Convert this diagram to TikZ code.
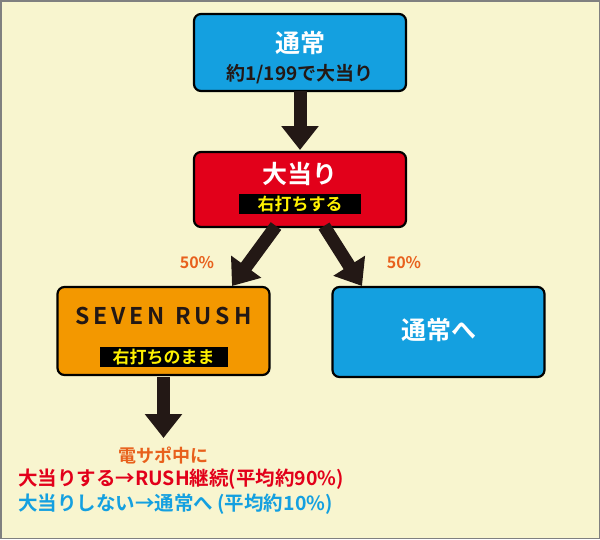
\documentclass[tikz,border=0pt]{standalone}
\usepackage{fontspec}
\setmainfont{Noto Sans CJK JP}[BoldFont={* Bold}]
\usetikzlibrary{arrows.meta,positioning}
\definecolor{bgyel}{HTML}{F8F5CF}
\definecolor{skyblu}{HTML}{14A0E0}
\definecolor{hitred}{HTML}{E2001A}
\definecolor{rushor}{HTML}{F39800}
\definecolor{labor}{HTML}{E8601C}
\definecolor{txtgray}{HTML}{231815}
\definecolor{tagyel}{HTML}{FFF100}
\tikzset{
  box/.style={draw=black, line width=2.2pt, rounded corners=7pt, minimum width=212pt, font=\bfseries},
  tag/.style={fill=black, text=tagyel, font=\bfseries\fontsize{17}{19}\selectfont, inner sep=2pt},
  bigarr/.style={line width=13pt, color=txtgray, -{Triangle[length=24pt,width=36pt]}},
  pct/.style={text=labor, font=\bfseries\fontsize{16}{18}\selectfont},
  note/.style={font=\bfseries\fontsize{19.5}{21}\selectfont, anchor=west, inner sep=0pt}
}
\begin{document}
\begin{tikzpicture}[x=1pt,y=-1pt]
  \useasboundingbox (0,0) rectangle (600,539);
  \fill[bgyel] (0,0) rectangle (600,539);
  \draw[gray, line width=1.5pt] (0.75,0.75) rectangle (599.25,538.25);

  % boxes
  \node[box, fill=skyblu, minimum height=77pt] (normal) at (300,52.5) {};
  \node[text=white, font=\bfseries\fontsize{25}{27}\selectfont] (normalt) at (300,43) {通常};
  \node[text=txtgray, font=\bfseries\fontsize{19}{21}\selectfont] (normals) at (300,74) {約1/199で大当り};

  \node[box, fill=hitred, minimum height=75pt] (hit) at (300,189.5) {};
  \node[text=white, font=\bfseries\fontsize{25}{27}\selectfont] (hitt) at (300,174) {大当り};
  \node[tag, minimum width=122pt] (hits) at (300,204) {右打ちする};

  \node[box, fill=rushor, minimum height=88pt] (rush) at (163.5,331) {};
  \node[text=txtgray, font=\bfseries\fontsize{23}{25}\selectfont] (rusht) at (163.5,316) {S\,E\,V\,E\,N\ \ R\,U\,S\,H};
  \node[tag, minimum width=128pt] (rushs) at (163.5,357) {右打ちのまま};

  \node[box, fill=skyblu, minimum height=90pt] (back) at (438.5,332) {};
  \node[text=white, font=\bfseries\fontsize{25}{27}\selectfont] (backt) at (438.5,330) {通常へ};

  % arrows
  \coordinate (a1) at (300,91);   \coordinate (b1) at (300,150);
  \coordinate (a2) at (276,226);  \coordinate (b2) at (232,286);
  \coordinate (a3) at (324,226);  \coordinate (b3) at (362,286);
  \coordinate (a4) at (163.5,377); \coordinate (b4) at (163.5,438);
  \draw[bigarr] (a1) -- (b1);
  \draw[bigarr] (a2) -- (b2);
  \draw[bigarr] (a3) -- (b3);
  \draw[bigarr] (a4) -- (b4);

  \node[pct] (pl) at (197,263) {50\%};
  \node[pct] (pr) at (404,263) {50\%};

  % notes
  \node[pct, font=\bfseries\fontsize{18}{20}\selectfont] (n1) at (163,455) {電サポ中に};
  \node[note, text=hitred] (n2) at (18,479) {大当りする→RUSH継続(平均約90\%)};
  \node[note, text=skyblu] (n3) at (18,504) {大当りしない→通常へ (平均約10\%)};
\end{tikzpicture}
\end{document}
